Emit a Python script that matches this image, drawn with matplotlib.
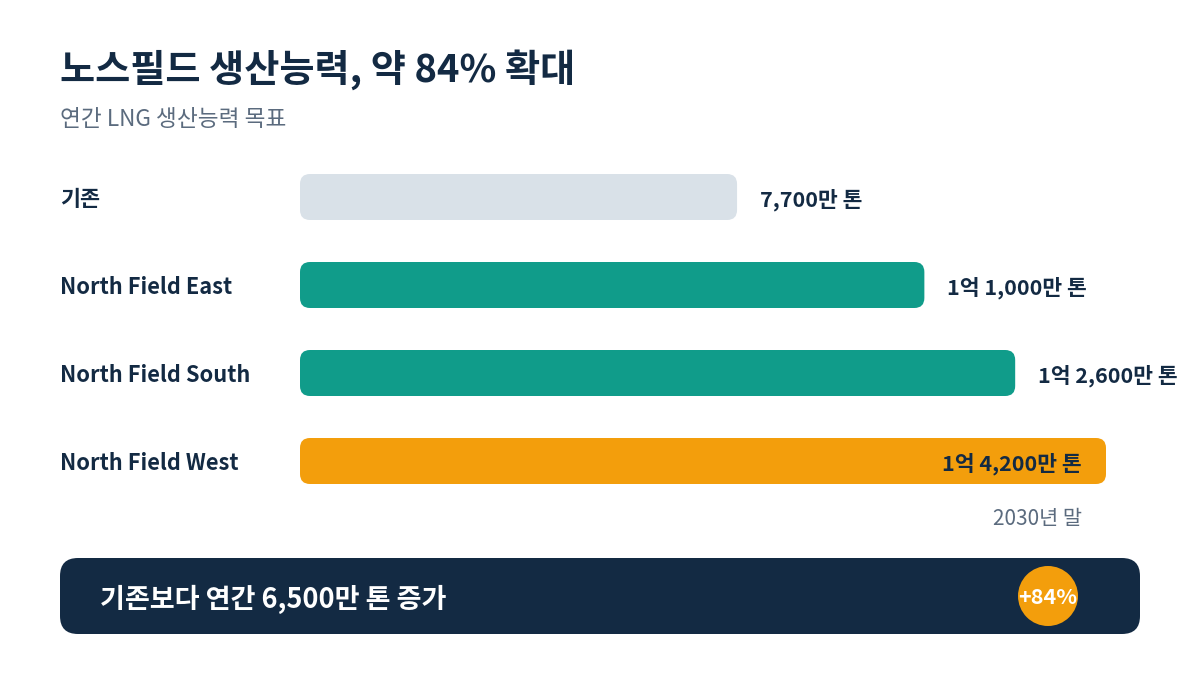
import matplotlib

matplotlib.use("Agg")
import matplotlib.pyplot as plt
from matplotlib.patches import FancyBboxPatch, Circle

plt.rcParams["font.family"] = ["Noto Sans CJK KR", "DejaVu Sans"]

# annual LNG capacity, in 만 톤 (10k tonnes)
categories = ["기존", "North Field East", "North Field South", "North Field West"]
capacity = [7700, 11000, 12600, 14200]
bar_colors = ["#d9e1e8", "#109c8a", "#109c8a", "#f39e0c"]

title = "노스필드 생산능력, 약 84% 확대"
subtitle = "연간 LNG 생산능력 목표"
target_note = "2030년 말"

NAVY = "#132a43"
GRAY = "#5b6b7e"


def fmt_tonnes(v):
    """7700 -> '7,700만 톤', 11000 -> '1억 1,000만 톤'"""
    eok, man = divmod(v, 10000)
    if eok:
        return f"{eok}억 {man:,}만 톤"
    return f"{man:,}만 톤"


fig = plt.figure(figsize=(12, 6.75), dpi=100)

# background axes in pixel units for the layout stuff
bg = fig.add_axes([0, 0, 1, 1])
bg.set_xlim(0, 1200)
bg.set_ylim(675, 0)
bg.axis("off")

bg.text(60, 70, title, fontsize=27.5, fontweight="bold", color=NAVY, va="center")
bg.text(60, 120, subtitle, fontsize=16.3, color=GRAY, va="center")

# bar axes: x in data units, one row per category
bar_left, bar_right = 300, 1106
bar_top, bar_bottom = 174, 484
row_px = 88
bar_h = 46 / row_px

ax = fig.add_axes([
    bar_left / 1200,
    (675 - bar_bottom) / 675,
    (bar_right - bar_left) / 1200,
    (bar_bottom - bar_top) / 675,
])
ax.set_xlim(0, max(capacity))
ax.set_ylim(len(categories) - 1 + bar_h / 2, -bar_h / 2)
ax.axis("off")

# rounding: 10 px corners, need x-units and aspect correction
px_per_x = (bar_right - bar_left) / max(capacity)
r_x = 10 / px_per_x
aspect = (10 / row_px) / r_x
txt_shift = 3 / row_px  # CJK font sits a little high with va=center

for i, (cat, val, col) in enumerate(zip(categories, capacity, bar_colors)):
    ax.add_patch(FancyBboxPatch(
        (0, i - bar_h / 2), val, bar_h,
        boxstyle=f"round,pad=0,rounding_size={r_x}",
        mutation_aspect=aspect, facecolor=col, edgecolor="none",
    ))
    y_px = bar_top + row_px * i + 23 + 3
    bg.text(60, y_px, cat, fontsize=15.7, fontweight="bold", color=NAVY,
            va="center")
    if val == max(capacity):
        # longest bar gets its label inside
        ax.text(val - 24 / px_per_x, i + txt_shift, fmt_tonnes(val),
                fontsize=15.5, fontweight="bold", color=NAVY, ha="right",
                va="center")
    else:
        ax.text(val + 23 / px_per_x, i + txt_shift, fmt_tonnes(val),
                fontsize=15.5, fontweight="bold", color=NAVY, ha="left",
                va="center", clip_on=False)

bg.text(1082, 519, target_note, fontsize=15, color=GRAY, ha="right",
        va="center")

# summary banner
bg.add_patch(FancyBboxPatch((60, 558), 1080, 76,
                            boxstyle="round,pad=0,rounding_size=18",
                            facecolor=NAVY, edgecolor="none"))
increase = capacity[-1] - capacity[0]
pct = round(increase / capacity[0] * 100)
bg.text(100, 599, f"기존보다 연간 {increase:,}만 톤 증가", fontsize=19.5,
        fontweight="bold", color="white", va="center")
bg.add_patch(Circle((1048, 596), 30, facecolor="#f39e0c", edgecolor="none"))
bg.text(1048, 598, f"+{pct}%", fontsize=15.5, fontweight="bold",
        color="white", ha="center", va="center")

plt.savefig("out.png", dpi=100, facecolor="white")
